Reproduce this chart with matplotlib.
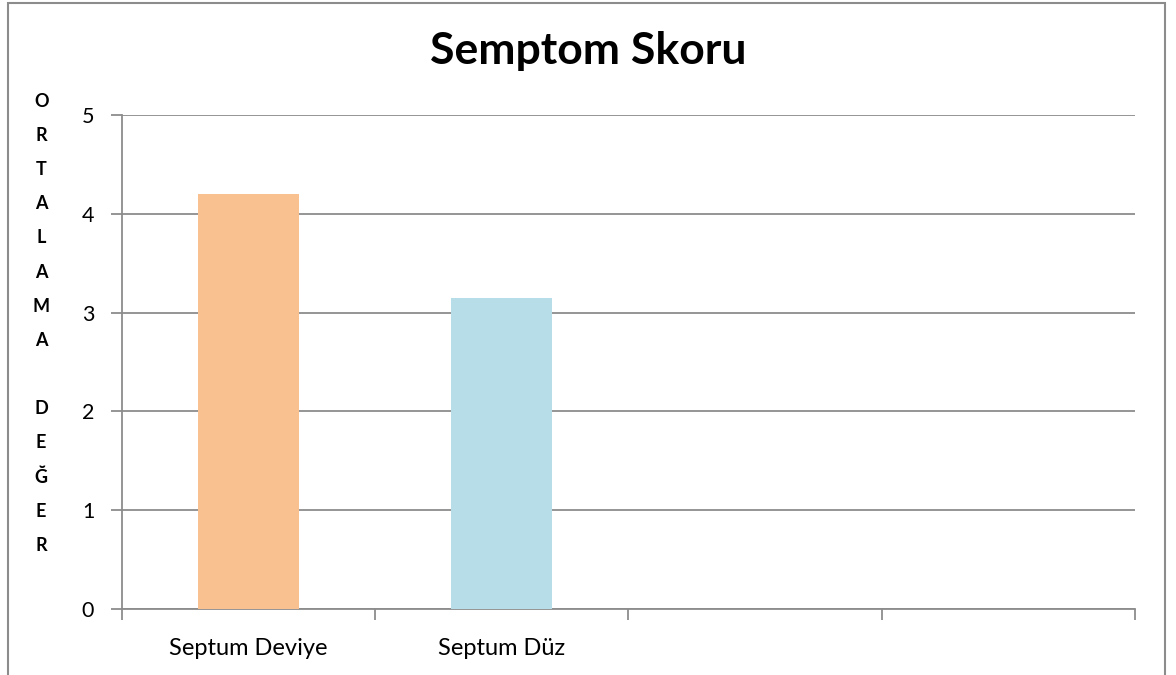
import numpy as np
import matplotlib.pyplot as plt
from matplotlib.patches import Rectangle

# data
categories = ["Septum Deviye", "Septum Düz", "", ""]
scores = [4.2, 3.15]
bar_colors = ["#F9C18F", "#B7DDE8"]
yticks = [0, 1, 2, 3, 4, 5]
ylabel = "ORTALAMA DEĞER"

plt.rcParams['font.family'] = ['Lato', 'DejaVu Sans']

fig = plt.figure(figsize=(11.76, 6.75), dpi=100)
ax = fig.add_axes([0.1037, 0.0978, 0.8614, 0.7318])

grid_col = "#8C8C8C"
x = np.arange(len(scores))
ax.bar(x, scores, width=0.4, color=bar_colors, zorder=3)

ax.set_xlim(-0.5, len(categories) - 0.5)
ax.set_ylim(0, 5)
ax.set_yticks(yticks)
ax.set_yticklabels([str(v) for v in yticks], fontsize=15.5)
ax.set_xticks(np.arange(len(categories)))
ax.set_xticklabels(categories, fontsize=17)
ax.set_xticks(np.arange(len(categories) + 1) - 0.5, minor=True)
ax.tick_params(axis='x', which='major', length=0, pad=21)
ax.tick_params(axis='x', which='minor', length=8, color=grid_col, width=1.3)
ax.tick_params(axis='y', length=8, color=grid_col, width=1.3, pad=12)

ax.grid(axis='y', color=grid_col, linewidth=1.3, zorder=0)
for side in ['top', 'right']:
    ax.spines[side].set_visible(False)
for side in ['left', 'bottom']:
    ax.spines[side].set_color(grid_col)
    ax.spines[side].set_linewidth(1.3)

fig.text(0.5, 0.925, "Semptom Skoru", ha='center', va='center',
         fontsize=32, fontweight='bold')

# stacked vertical label
stacked = "\n".join(ch if ch != " " else "" for ch in ylabel)
fig.text(0.035, 0.862, stacked, ha='center', va='top', fontsize=13,
         fontweight='bold', linespacing=2.22, multialignment='center')

# outer chart frame
fig.patches.append(Rectangle((8 / 1176, -0.05), 1157 / 1176, 1.05 - 3 / 675,
                             transform=fig.transFigure, fill=False,
                             edgecolor="#8C8C8C", linewidth=1.5))

fig.savefig("out.png", dpi=100)
